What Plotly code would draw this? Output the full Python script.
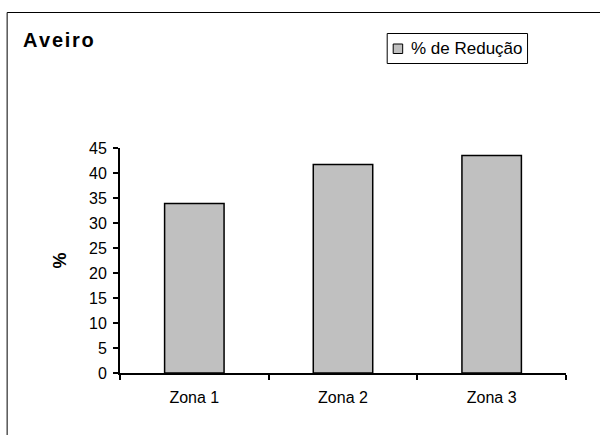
import plotly.graph_objects as go

categories = ["Zona 1", "Zona 2", "Zona 3"]
reducao = [33.9, 41.7, 43.5]
series_name = "% de Redução"
y_ticks = [0, 5, 10, 15, 20, 25, 30, 35, 40, 45]

W, H = 600, 435
L, R, T, B = 119.5, 34, 148, 62
pw, ph = W - L - R, H - T - B

def px_x(x):
    return (x - L) / pw

def px_y(y):
    return (H - B - y) / ph

BAR_FILL = "#c0c0c0"
FONT = "Liberation Sans, Arial, sans-serif"

fig = go.Figure()
fig.add_trace(go.Bar(
    x=categories, y=reducao, name=series_name,
    marker=dict(color=BAR_FILL, line=dict(color="black", width=1.5)),
    showlegend=False,
))

fig.update_layout(
    width=W, height=H,
    margin=dict(l=L, r=R, t=T, b=B, pad=0),
    paper_bgcolor="white", plot_bgcolor="white",
    bargap=0.6,
    font=dict(family=FONT, color="black", size=16),
    showlegend=False,
    xaxis=dict(
        showline=True, linecolor="black", linewidth=2,
        ticks="outside", ticklen=5, tickwidth=2, tickcolor="black",
        tickson="boundaries", showgrid=False, ticklabelstandoff=9,
        tickfont=dict(size=16),
    ),
    yaxis=dict(
        range=[0, 45], tickvals=y_ticks, showline=True, linecolor="black", linewidth=2,
        ticks="outside", ticklen=5, tickwidth=2, tickcolor="black",
        showgrid=False, zeroline=False, tickfont=dict(size=16), ticklabelstandoff=3,
        title=dict(text="<b>%</b>", font=dict(size=18), standoff=18),
    ),
)

# outer chart frame
fig.add_shape(type="rect", xref="paper", yref="paper",
              x0=px_x(6.5), x1=px_x(640), y0=px_y(12.5), y1=px_y(480),
              line=dict(color="black", width=1), fillcolor="rgba(0,0,0,0)", layer="below")

# title (slightly letter-spaced like the original)
fig.add_annotation(text="<b>" + "\u200a".join("Aveiro") + "</b>", xref="paper", yref="paper",
                   x=px_x(20), y=px_y(40), xanchor="left", yanchor="middle",
                   showarrow=False, font=dict(size=20, color="black"))

# legend box (drawn manually to match the compact original layout)
fig.add_shape(type="rect", xref="paper", yref="paper",
              x0=px_x(387), x1=px_x(527.5), y0=px_y(33.5), y1=px_y(63.5),
              line=dict(color="black", width=1), fillcolor="white")
fig.add_shape(type="rect", xref="paper", yref="paper",
              x0=px_x(393), x1=px_x(402.5), y0=px_y(44), y1=px_y(53.5),
              line=dict(color="black", width=1), fillcolor=BAR_FILL)
fig.add_annotation(text=series_name, xref="paper", yref="paper",
                   x=px_x(409), y=px_y(48.5), xanchor="left", yanchor="middle",
                   showarrow=False, font=dict(size=17, color="black"))

fig.write_html("out.html", config={"displayModeBar": False},
               post_script="document.body.style.margin='0';")
